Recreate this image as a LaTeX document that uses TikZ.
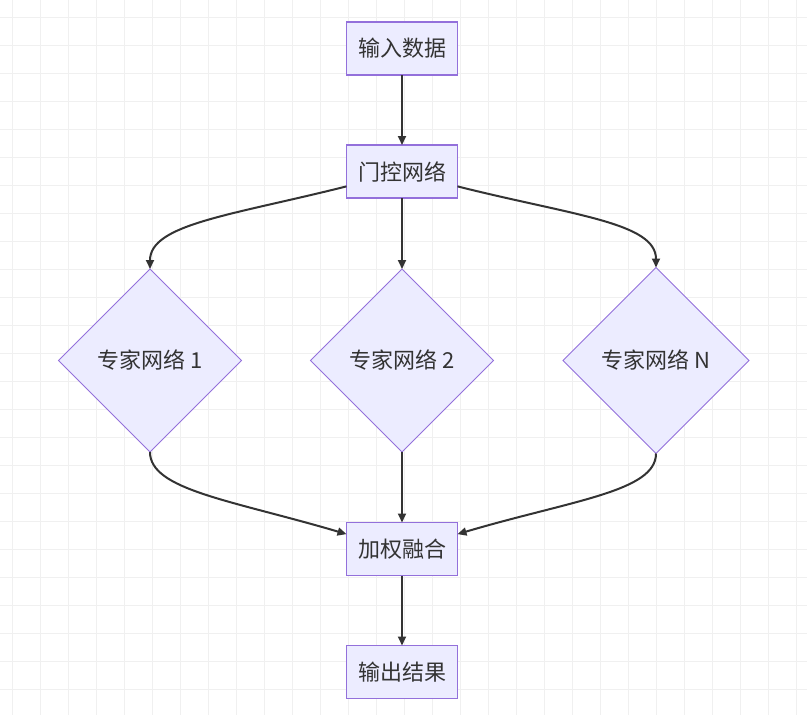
\documentclass[tikz,border=0pt]{standalone}
\usepackage{fontspec}
\setmainfont{Noto Sans CJK SC}
\usepackage{xcolor}
\usepackage{tikz}
\usetikzlibrary{positioning,shapes.geometric,arrows.meta}
\definecolor{boxfill}{HTML}{ECECFF}
\definecolor{boxline}{HTML}{9370DB}
\definecolor{linkgray}{HTML}{333333}
\definecolor{gridgray}{HTML}{F0F0F0}
\tikzstyle{every node}=[font=\fontsize{22pt}{26pt}\selectfont,text=linkgray]
\tikzstyle{process}=[draw=boxline,fill=boxfill,line width=1.3pt,minimum width=111pt,minimum height=53pt,inner sep=0pt,outer sep=0pt]
\tikzstyle{expert}=[diamond,shape aspect=1,draw=boxline,fill=boxfill,line width=1pt,minimum width=183pt,minimum height=183pt,inner sep=0pt,outer sep=0pt]
\tikzstyle{flow}=[draw=linkgray,line width=2pt,-{Triangle[length=9pt,width=8pt]}]

\begin{document}
\begin{tikzpicture}[x=1pt,y=-1pt]
    \useasboundingbox (0,0) rectangle (807,715);
    % background grid
    \foreach \gx in {0,...,28} {
        \draw[gridgray,line width=0.8pt] (12.3+28*\gx,0) -- (12.3+28*\gx,715);
    }
    \foreach \gy in {0,...,25} {
        \draw[gridgray,line width=0.8pt] (0,17.3+28*\gy) -- (807,17.3+28*\gy);
    }

    \node [process] (input) at (402,48.5) {输入数据};
    \node [process, below=70pt of input] (gate) {门控网络};
    \node [expert, below=71pt of gate] (expert2) {专家网络 2};
    \node [expert, left=69pt of expert2] (expert1) {专家网络 1};
    \node [expert, right=69.5pt of expert2, minimum width=186pt, minimum height=186pt] (expertN) {专家网络 N};
    \node [process, below=70.5pt of expert2] (fusion) {加权融合};
    \node [process, below=70pt of fusion] (output) {输出结果};

    \draw [flow] (input) -- (gate);
    \draw [flow] (gate.195) .. controls +(-115,29) and +(0,-45) .. (expert1.north);
    \draw [flow] (gate) -- (expert2);
    \draw [flow] (gate.-15) .. controls +(115,29) and +(0,-45) .. (expertN.north);
    \draw [flow] (expert1.south) .. controls +(0,38) and +(-115,-34) .. (fusion.165);
    \draw [flow] (expert2) -- (fusion);
    \draw [flow] (expertN.south) .. controls +(0,38) and +(115,-34) .. (fusion.15);
    \draw [flow] (fusion) -- (output);
\end{tikzpicture}
\end{document}
